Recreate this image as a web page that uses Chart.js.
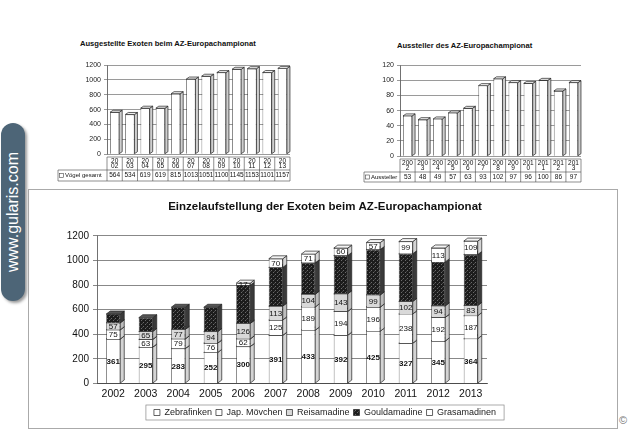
<!DOCTYPE html>
<html>
<head>
<meta charset="utf-8">
<script src="https://cdn.jsdelivr.net/npm/chart.js@4.4.1/dist/chart.umd.min.js"></script>
<style>
  body { margin: 0; background: #fff; width: 640px; height: 433px; overflow: hidden; position: relative; font-family: "Liberation Sans", Arial, sans-serif; }
  .pane { position: absolute; }
  .ttl { position: absolute; font-weight: bold; font-size: 7.6px; color: #111; white-space: nowrap; }
  #bigbox { position: absolute; left: 28px; top: 189px; width: 588px; height: 238px; border: 1px solid #aaa; }
  #wm { position: absolute; left: 1px; top: 123px; width: 24px; height: 178px; background: #4d6577; border-radius: 12px; box-shadow: 2px 2px 3px #999; }
  #wm span { position: absolute; left: 50%; top: 50%; transform: translate(-50%, -50%) rotate(-90deg); color: #fff; font-size: 16px; white-space: nowrap; }
  #copy { position: absolute; left: 619px; top: 414px; font-size: 11px; color: #777; }
</style>
</head>
<body>
<div id="bigbox"></div>
<div class="ttl" style="left:80px;top:39px;">Ausgestellte Exoten beim AZ-Europachampionat</div>
<div class="ttl" style="left:397px;top:41px;">Aussteller des AZ-Europachampionat</div>
<div class="pane" style="left:55px;top:58px;width:250px;height:127px;"><canvas id="c1"></canvas></div>
<div class="pane" style="left:360px;top:58px;width:245px;height:127px;"><canvas id="c2"></canvas></div>
<div class="pane" style="left:55px;top:190px;width:540px;height:237px;"><canvas id="c3"></canvas></div>
<div id="wm"><span>www.gularis.com</span></div>
<div id="copy">©</div>
<script>
const years = ['2002', '2003', '2004', '2005', '2006', '2007', '2008', '2009', '2010', '2011', '2012', '2013'];

// top left: all birds shown
const voegelGesamt = [564, 534, 619, 619, 815, 1013, 1051, 1100, 1145, 1153, 1101, 1157];
// top right: exhibitors
const aussteller = [53, 48, 49, 57, 63, 93, 102, 97, 96, 100, 86, 97];

// bottom: per species (Gouldamadine labels unreadable -> total minus the rest)
const zebrafinken  = [361, 295, 283, 252, 300, 391, 433, 392, 425, 327, 345, 364];
const japMoevchen  = [75, 63, 79, 76, 62, 125, 189, 194, 196, 238, 192, 187];
const reisamadine  = [57, 65, 77, 94, 126, 113, 104, 143, 99, 102, 94, 83];
const gouldamadine = [71, 111, 180, 197, 310, 314, 254, 311, 368, 387, 357, 414];
const grasamadinen = [0, 0, 0, 0, 17, 70, 71, 60, 57, 99, 113, 109];

const FONT = '"Liberation Sans", Arial, sans-serif';

// speckled dark fill for the Gouldamadine
function speckle() {
  const c = document.createElement('canvas');
  c.width = 4; c.height = 4;
  const g = c.getContext('2d');
  g.fillStyle = '#1c1c1c';
  g.fillRect(0, 0, 4, 4);
  g.fillStyle = '#6a6a6a';
  g.fillRect(0, 0, 1, 1);
  g.fillRect(2, 2, 1, 1);
  g.fillStyle = '#444';
  g.fillRect(3, 1, 1, 1);
  return g.createPattern(c, 'repeat');
}
const gouldFill = speckle();

// fake 3D: side and top faces behind every bar
const depth3d = {
  id: 'depth3d',
  beforeDatasetsDraw(chart, args, opts) {
    const ctx = chart.ctx;
    const dx = opts.dx, dy = opts.dy;
    chart.data.datasets.forEach((ds, i) => {
      const meta = chart.getDatasetMeta(i);
      meta.data.forEach((bar, j) => {
        if (!ds.data[j]) return;
        const p = bar.getProps(['x', 'y', 'base', 'width'], true);
        const l = p.x - p.width / 2, r = p.x + p.width / 2;
        ctx.save();
        ctx.lineWidth = 0.7;
        ctx.strokeStyle = '#222';
        ctx.fillStyle = ds.sideColor || '#cfcfcf';
        ctx.beginPath();
        ctx.moveTo(r, p.y); ctx.lineTo(r + dx, p.y - dy);
        ctx.lineTo(r + dx, p.base - dy); ctx.lineTo(r, p.base);
        ctx.closePath(); ctx.fill(); ctx.stroke();
        ctx.fillStyle = ds.topColor || '#f0f0f0';
        ctx.beginPath();
        ctx.moveTo(l, p.y); ctx.lineTo(l + dx, p.y - dy);
        ctx.lineTo(r + dx, p.y - dy); ctx.lineTo(r, p.y);
        ctx.closePath(); ctx.fill(); ctx.stroke();
        ctx.restore();
      });
    });
  }
};

// data table under the small charts
const dataTable = {
  id: 'dataTable',
  afterDraw(chart, args, opts) {
    const ctx = chart.ctx;
    const xs = chart.scales.x;
    const n = chart.data.labels.length;
    const step = xs.getPixelForValue(1) - xs.getPixelForValue(0);
    const top = chart.chartArea.bottom + 3;
    const mid = top + opts.row1;
    const bot = mid + opts.row2;
    const left = xs.getPixelForValue(0) - step / 2;
    const right = xs.getPixelForValue(n - 1) + step / 2;
    ctx.save();
    ctx.strokeStyle = '#444';
    ctx.lineWidth = 0.6;
    ctx.beginPath();
    for (let i = 0; i <= n; i++) {
      const xx = left + i * step;
      ctx.moveTo(xx, top); ctx.lineTo(xx, bot);
    }
    ctx.moveTo(left, top); ctx.lineTo(right, top);
    ctx.moveTo(opts.labelLeft, mid); ctx.lineTo(right, mid);
    ctx.moveTo(opts.labelLeft, bot); ctx.lineTo(right, bot);
    ctx.moveTo(opts.labelLeft, mid); ctx.lineTo(opts.labelLeft, bot);
    ctx.stroke();

    ctx.fillStyle = '#111';
    ctx.font = '6.5px ' + FONT;
    ctx.textAlign = 'center';
    ctx.textBaseline = 'middle';
    const values = chart.data.datasets[0].data;
    chart.data.labels.forEach((lab, i) => {
      const cx = xs.getPixelForValue(i);
      const a = lab.slice(0, opts.split), b = lab.slice(opts.split);
      ctx.fillText(a, cx, top + opts.row1 * 0.3);
      ctx.fillText(b, cx, top + opts.row1 * 0.72);
      ctx.fillText(String(values[i]), cx, mid + opts.row2 / 2);
    });
    ctx.textAlign = 'left';
    ctx.font = '6px ' + FONT;
    ctx.strokeRect(opts.labelLeft + 1.5, mid + opts.row2 / 2 - 2, 4, 4);
    ctx.fillText(chart.data.datasets[0].label, opts.labelLeft + 7, mid + opts.row2 / 2);
    ctx.restore();
  }
};

// numbers inside the stacked segments
const segLabels = {
  id: 'segLabels',
  afterDatasetsDraw(chart, args, opts) {
    const ctx = chart.ctx;
    ctx.save();
    ctx.textAlign = 'center';
    ctx.textBaseline = 'middle';
    chart.data.datasets.forEach((ds, i) => {
      if (opts.skip.includes(i)) return;
      const meta = chart.getDatasetMeta(i);
      ctx.font = (i === 0 ? 'bold ' : '') + '8px ' + FONT;
      ctx.fillStyle = '#111';
      meta.data.forEach((bar, j) => {
        if (!ds.data[j]) return;
        const p = bar.getProps(['x', 'y', 'base'], true);
        ctx.fillText(String(ds.data[j]), p.x, (p.y + p.base) / 2 + 0.5);
      });
    });
    ctx.restore();
  }
};

// thin frame around the legend
const legendFrame = {
  id: 'legendFrame',
  afterDraw(chart) {
    const lg = chart.legend;
    if (!lg || !lg.legendHitBoxes.length) return;
    const hb = lg.legendHitBoxes;
    const x0 = Math.min(...hb.map(h => h.left)) - 8;
    const x1 = Math.max(...hb.map(h => h.left + h.width)) + 8;
    const y0 = hb[0].top - 3, y1 = hb[0].top + hb[0].height + 3;
    const ctx = chart.ctx;
    ctx.save();
    ctx.strokeStyle = '#888';
    ctx.lineWidth = 0.7;
    ctx.strokeRect(x0, y0, x1 - x0, y1 - y0);
    ctx.restore();
  }
};

function smallChart(id, labels, label, values, max, stepSize, axisW, pad, table) {
  return new Chart(document.getElementById(id), {
    type: 'bar',
    data: {
      labels: labels,
      datasets: [{
        label: label,
        data: values,
        backgroundColor: '#fff',
        borderColor: '#222',
        borderWidth: 0.7,
        barPercentage: 0.6,
        categoryPercentage: 1
      }]
    },
    options: {
      responsive: true,
      maintainAspectRatio: false,
      animation: false,
      layout: { padding: pad },
      plugins: {
        legend: { display: false },
        tooltip: { enabled: false },
        depth3d: { dx: 3, dy: 2 },
        dataTable: table
      },
      scales: {
        x: { display: false },
        y: {
          min: 0, max: max,
          ticks: { stepSize: stepSize, color: '#222', font: { size: 7, family: FONT }, padding: 3, callback: v => String(v) },
          grid: { color: '#555', lineWidth: 0.6, tickLength: 3 },
          border: { color: '#333', width: 0.7 },
          afterFit(s) { s.width = axisW; }
        }
      }
    },
    plugins: [depth3d, dataTable]
  });
}

smallChart('c1', years, 'Vögel gesamt', voegelGesamt, 1200, 200, 52,
  { top: 7, right: 15, bottom: 31, left: 0 },
  { row1: 13, row2: 11, split: 2, labelLeft: 3 });

smallChart('c2', years, 'Aussteller', aussteller, 120, 20, 40,
  { top: 4, right: 24, bottom: 29, left: 0 },
  { row1: 13, row2: 10, split: 3, labelLeft: 4 });

new Chart(document.getElementById('c3'), {
  type: 'bar',
  data: {
    labels: years,
    datasets: [
      { label: 'Zebrafinken', data: zebrafinken, backgroundColor: '#fff', sideColor: '#d4d4d4', topColor: '#f4f4f4' },
      { label: 'Jap. Mövchen', data: japMoevchen, backgroundColor: '#fff', sideColor: '#d4d4d4', topColor: '#f4f4f4' },
      { label: 'Reisamadine', data: reisamadine, backgroundColor: '#d9d9d9', sideColor: '#bdbdbd', topColor: '#e6e6e6' },
      { label: 'Gouldamadine', data: gouldamadine, backgroundColor: gouldFill, sideColor: '#3a3a3a', topColor: '#555' },
      { label: 'Grasamadinen', data: grasamadinen, backgroundColor: '#fff', sideColor: '#d4d4d4', topColor: '#f4f4f4' }
    ].map(d => Object.assign(d, { borderColor: '#222', borderWidth: 0.7, barPercentage: 0.43, categoryPercentage: 1 }))
  },
  options: {
    responsive: true,
    maintainAspectRatio: false,
    animation: false,
    layout: { padding: { top: 0, right: 0, bottom: 0, left: 0 } },
    plugins: {
      title: {
        display: true,
        text: 'Einzelaufstellung der Exoten beim AZ-Europachampionat',
        color: '#111',
        font: { size: 11.5, weight: 'bold', family: FONT },
        padding: { top: 10, bottom: 22 }
      },
      legend: {
        position: 'bottom',
        labels: { boxWidth: 6, boxHeight: 6, padding: 4, color: '#222', font: { size: 9, family: FONT } }
      },
      tooltip: { enabled: false },
      depth3d: { dx: 4, dy: 3 },
      segLabels: { skip: [3] }
    },
    scales: {
      x: {
        stacked: true,
        grid: { display: false, drawTicks: false },
        border: { color: '#333', width: 0.7 },
        ticks: { color: '#111', font: { size: 10.5, family: FONT }, padding: 4 }
      },
      y: {
        stacked: true,
        min: 0, max: 1200,
        ticks: { stepSize: 200, color: '#111', font: { size: 10, family: FONT }, padding: 4, callback: v => String(v) },
        grid: { color: '#555', lineWidth: 0.7, tickLength: 4 },
        border: { color: '#333', width: 0.7 },
        afterFit(s) { s.width = 42; }
      },
      // empty right-hand strip so the plot ends where the reference plot ends
      spacer: {
        type: 'linear',
        position: 'right',
        display: true,
        ticks: { display: false },
        grid: { display: false },
        border: { display: false },
        afterFit(s) { s.width = 108; }
      }
    }
  },
  plugins: [depth3d, segLabels, legendFrame]
});
</script>
</body>
</html>
